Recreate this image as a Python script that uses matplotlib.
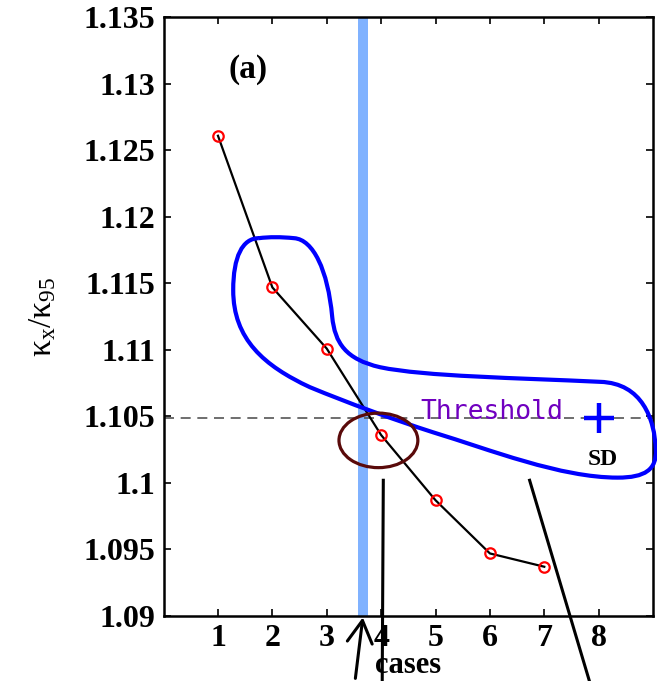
import matplotlib
matplotlib.use("Agg")
import numpy as np
import matplotlib.pyplot as plt
from matplotlib.path import Path
from matplotlib.patches import PathPatch, Ellipse, FancyArrowPatch
from matplotlib.lines import Line2D

# ratio of kappa_x to kappa_95 for each case
cases = [1, 2, 3, 4, 5, 6, 7]
ratio = [1.1261, 1.1147, 1.1101, 1.1036, 1.0987, 1.0947, 1.0937]

threshold = 1.1049
sd_case, sd_value = 8, 1.1049
band_lo, band_hi = 3.58, 3.76

xticks = [1, 2, 3, 4, 5, 6, 7, 8]
yticks = [1.09, 1.095, 1.1, 1.105, 1.11, 1.115, 1.12, 1.125, 1.13, 1.135]
ytick_labels = ["1.09", "1.095", "1.1", "1.105", "1.11", "1.115", "1.12", "1.125", "1.13", "1.135"]

plt.rcParams['font.family'] = ['Liberation Serif', 'DejaVu Serif']
plt.rcParams['font.weight'] = 'bold'
plt.rcParams['mathtext.default'] = 'regular'

fig = plt.figure(figsize=(6.57, 6.81), dpi=100)
ax = fig.add_axes([0.249, 0.0955, 0.745, 0.879])

# highlighted case band and threshold
ax.axvspan(band_lo, band_hi, color='#80b2ff', lw=0, zorder=1)
ax.axhline(threshold, color='#555555', lw=1.2, ls=(0, (6, 4)), zorder=2)

# main curve
ax.plot(cases, ratio, color='black', lw=1.6, zorder=3)
ax.plot(cases, ratio, ls='none', marker='o', ms=7.5, mfc='none', mec='red', mew=1.6, zorder=4)

# SD marker
ax.plot([sd_case], [sd_value], marker='+', color='blue', ms=22, mew=3.2, ls='none', zorder=5)
ax.text(sd_case + 0.07, 1.10175, 'SD', ha='center', va='center', fontsize=17, fontweight='bold')

ax.text(4.72, 1.1053, 'Threshold', color='#7000c0', fontsize=19,
        family='DejaVu Sans Mono', fontweight='normal', ha='left', va='center')

ax.text(1.55, 1.1311, '(a)', fontsize=24, fontweight='bold', ha='center', va='center')

# outline around the grouped cases
verts = [
    (1.75, 1.1184),
    (1.45, 1.1184), (1.28, 1.1170), (1.28, 1.1145),
    (1.28, 1.1108), (1.85, 1.1088), (2.69, 1.1072),
    (3.40, 1.1060), (4.20, 1.1048), (4.96, 1.1038),
    (6.00, 1.1025), (7.30, 1.1004), (8.35, 1.1004),
    (8.85, 1.1004), (9.07, 1.1010), (9.05, 1.1025),
    (9.03, 1.1048), (8.80, 1.1075), (8.03, 1.1076),
    (6.50, 1.1079), (4.80, 1.1080), (3.98, 1.1087),
    (3.35, 1.1093), (3.15, 1.1105), (3.10, 1.1125),
    (3.02, 1.1160), (2.75, 1.1183), (2.40, 1.1184),
    (2.15, 1.1185), (1.95, 1.1185), (1.75, 1.1184),
]
codes = [Path.MOVETO] + [Path.CURVE4] * (len(verts) - 1)
ax.add_patch(PathPatch(Path(verts, codes), fc='none', ec='blue', lw=3.0,
                       clip_on=False, zorder=6))

ax.add_patch(Ellipse((3.95, 1.1032), 1.45, 0.0041, fc='none', ec='#5a0a0a',
                     lw=2.3, zorder=6))

# pointer lines below the plot
ax.add_patch(FancyArrowPatch((3.52, 1.0851), (3.67, 1.0901),
                             arrowstyle='->,head_length=0.8,head_width=0.45',
                             mutation_scale=20, color='black', lw=2.2,
                             clip_on=False, zorder=7))
for xs, ys in [([4.04, 4.02], [1.1002, 1.0851]), ([6.73, 7.83], [1.1002, 1.0851])]:
    ax.add_line(Line2D(xs, ys, color='black', lw=2.2, clip_on=False, zorder=7))

ax.set_xlim(0, 9)
ax.set_ylim(1.09, 1.135)
ax.set_xticks(xticks)
ax.set_yticks(yticks)
ax.set_yticklabels(ytick_labels)
ax.tick_params(direction='in', length=5, width=1.2, top=True, right=True,
               labelsize=23, pad=6)
for lab in ax.get_xticklabels() + ax.get_yticklabels():
    lab.set_fontweight('bold')
for s in ax.spines.values():
    s.set_linewidth(1.8)

ax.set_xlabel('cases', fontsize=22, fontweight='bold')
ax.xaxis.set_label_coords(0.5, -0.058)
ax.set_ylabel(r'$\kappa_x/\kappa_{95}$', fontsize=24, fontweight='normal')
ax.yaxis.set_label_coords(-0.215, 0.5)

fig.savefig('out.png', dpi=100)
